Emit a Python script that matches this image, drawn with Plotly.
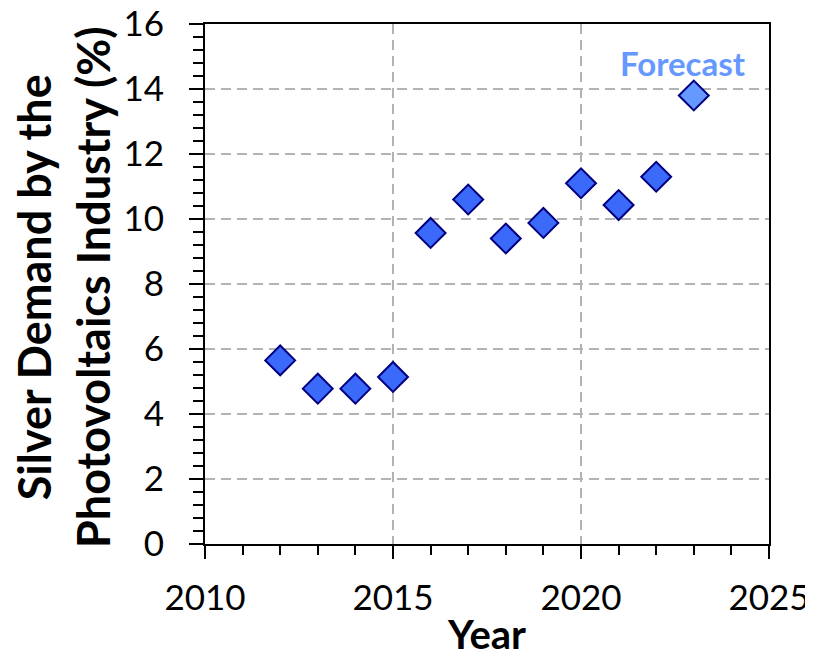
import plotly.graph_objects as go

years = [2012, 2013, 2014, 2015, 2016, 2017, 2018, 2019, 2020, 2021, 2022]
demand = [5.65, 4.78, 4.78, 5.14, 9.57, 10.6, 9.4, 9.88, 11.1, 10.43, 11.3]
forecast_years = [2023]
forecast_demand = [13.8]

x_ticks = [2010, 2015, 2020, 2025]
y_ticks = [0, 2, 4, 6, 8, 10, 12, 14, 16]

y_title = "<b>Silver Demand by the<br>Photovoltaics Industry (%)</b>"
x_title = "<b>Year</b>"
forecast_label = "<b>Forecast</b>"

font_family = "Lato, 'Open Sans', sans-serif"

fig = go.Figure()
fig.add_trace(go.Scatter(
    x=years, y=demand, mode="markers",
    marker=dict(symbol="diamond", size=23, color="#3B69FA",
                line=dict(color="#000080", width=2)),
    showlegend=False, cliponaxis=False))
fig.add_trace(go.Scatter(
    x=forecast_years, y=forecast_demand, mode="markers",
    marker=dict(symbol="diamond", size=23, color="#6699FF",
                line=dict(color="#000080", width=2)),
    showlegend=False, cliponaxis=False))

fig.add_annotation(x=2022.71, y=14.8, xref="x", yref="y", text=forecast_label,
                   showarrow=False, font=dict(size=33, color="#6699FF", family=font_family))

# y-axis title as a rotated annotation for precise placement
fig.add_annotation(x=0, y=0.5, xref="paper", yref="paper", text=y_title,
                   textangle=-90, showarrow=False, xanchor="center", yanchor="middle",
                   xshift=-142, yshift=-4,
                   font=dict(size=45, color="black", family=font_family))

axis_common = dict(
    showline=True, linecolor="black", linewidth=2, mirror=True,
    ticks="outside", tickcolor="black", tickwidth=2,
    showgrid=True, gridcolor="#B3B3B3", gridwidth=1.5, griddash="10px,6px",
    zeroline=False, automargin=False, ticklabeloverflow="allow",
    tickfont=dict(size=35, color="black", family=font_family),
)

fig.update_xaxes(
    **axis_common, range=[2010, 2025], tickvals=x_ticks, ticklen=13,
    ticklabelstandoff=9,
    minor=dict(dtick=1, tick0=2010, ticks="outside", ticklen=9, tickcolor="black",
               tickwidth=2, showgrid=False),
    title=dict(text=x_title, font=dict(size=40, color="black", family=font_family),
               standoff=5),
)
fig.update_yaxes(
    **axis_common, range=[0, 16], tickvals=y_ticks, ticklen=14,
    ticklabelstandoff=18,
    minor=dict(dtick=0.4, tick0=0, ticks="outside", ticklen=10, tickcolor="black",
               tickwidth=2, showgrid=False),
)

fig.update_layout(
    width=813, height=660,
    margin=dict(l=197, r=52, t=16, b=124),
    plot_bgcolor="white", paper_bgcolor="white",
    font=dict(family=font_family, color="black"),
)

fig.write_html("out.html")
